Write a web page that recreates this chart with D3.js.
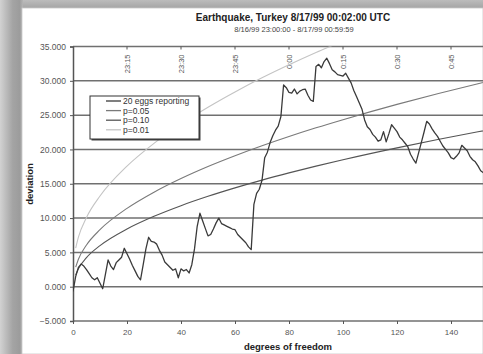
<!DOCTYPE html>
<html>
<head>
<meta charset="utf-8">
<script src="https://cdn.jsdelivr.net/npm/d3@7"></script>
<style>
  html, body { margin: 0; padding: 0; background: #fff; }
  svg { display: block; font-family: "Liberation Sans", Arial, sans-serif; }
</style>
</head>
<body>
<svg id="chart" width="483" height="354"></svg>
<script>
// Cumulative deviation of the 20 reporting eggs, one value per degree of freedom
const deviation = [
  -0.7, 1.5, 2.8, 3.3, 3.0, 2.5, 1.9, 1.3, 1.0, 1.3,
   0.5, -0.3, 1.8, 3.9, 3.0, 2.5, 3.5, 3.9, 4.3, 5.6,
   4.8, 4.0, 3.1, 2.3, 1.5, 1.0, 3.2, 5.5, 7.2, 6.6,
   6.5, 6.2, 5.3, 4.6, 3.6, 3.2, 2.8, 2.4, 2.6, 1.3,
   2.6, 2.3, 2.5, 2.0, 3.2, 5.5, 8.8, 10.7, 9.6, 8.5,
   7.4, 7.6, 8.4, 9.3, 10.0, 9.2, 9.0, 8.8, 8.6, 8.4,
   8.3, 7.6, 7.2, 6.8, 6.4, 5.8, 5.4, 12.0, 13.6, 14.2,
   15.5, 18.8, 19.6, 21.0, 22.0, 22.8, 23.4, 24.8, 29.4, 29.0,
   28.3, 28.2, 28.8, 28.1, 28.5, 28.7, 28.8, 27.9, 27.2, 27.0,
   32.1, 32.4, 31.9, 32.8, 33.3, 32.5, 31.6, 31.3, 30.9, 30.8,
   30.7, 31.1, 30.4, 29.7, 28.6, 27.7, 26.8, 25.9, 24.3, 23.3,
   22.9, 22.2, 21.8, 21.2, 21.4, 22.6, 21.1, 22.3, 23.6, 23.1,
   22.6, 21.8, 21.4, 20.9, 20.4, 19.3, 18.6, 18.0, 19.5, 21.0,
   22.5, 24.1, 23.7, 23.0, 22.4, 21.9, 21.2, 20.5, 20.0, 19.5,
   18.8, 18.6, 19.0, 19.5, 20.6, 20.2, 19.8, 19.0, 18.5, 18.2,
   17.6, 16.9, 16.6, 16.0
];

// Significance envelopes (deviation at which the chi-square reaches each level)
const envDf  = [1, 2, 5, 10, 20, 30, 40, 50, 60, 70, 80, 90, 100, 120, 150, 160];
const p05    = [2.84, 3.99, 6.07, 8.31, 11.41, 13.77, 15.76, 17.51, 19.08, 20.53, 21.88, 23.15, 24.34, 26.57, 29.58, 30.5];
const p10    = [1.71, 2.61, 4.24, 5.99, 8.41, 10.26, 11.81, 13.17, 14.40, 15.53, 16.58, 17.57, 18.50, 20.23, 22.58, 23.3];
const p01    = [5.63, 7.21, 10.09, 13.21, 17.57, 20.89, 23.69, 26.15, 28.38, 30.43, 32.33, 34.12, 35.81, 39.2, 43.9, 45.4];

const yTicks = [-5, 0, 5, 10, 15, 20, 25, 30, 35];
const xTicks = [0, 20, 40, 60, 80, 100, 120, 140];
const timeTickDf = [20, 40, 60, 80, 100, 120, 140];
const timeLabels = ["23:15", "23:30", "23:45", "0:00", "0:15", "0:30", "0:45"];

const legendNames = ["20 eggs reporting", "p=0.05", "p=0.10", "p=0.01"];

const title = "Earthquake, Turkey 8/17/99 00:02:00 UTC";
const subtitle = "8/16/99 23:00:00 - 8/17/99 00:59:59";

const svg = d3.select("#chart");
const W = 483, H = 354;

// Page frame with soft shadow on the left and top
const defs = svg.append("defs");
const gl = defs.append("linearGradient").attr("id", "shadeLeft").attr("x1", 0).attr("x2", 1).attr("y1", 0).attr("y2", 0);
gl.append("stop").attr("offset", "0%").attr("stop-color", "#d2d2d2");
gl.append("stop").attr("offset", "55%").attr("stop-color", "#a4a4a4");
gl.append("stop").attr("offset", "85%").attr("stop-color", "#9c9c9c");
gl.append("stop").attr("offset", "100%").attr("stop-color", "#b4b4b4");
const gt = defs.append("linearGradient").attr("id", "shadeTop").attr("x1", 0).attr("x2", 0).attr("y1", 0).attr("y2", 1);
gt.append("stop").attr("offset", "0%").attr("stop-color", "#bcbcbc");
gt.append("stop").attr("offset", "100%").attr("stop-color", "#a2a2a2");

svg.append("rect").attr("x", 0).attr("y", 0).attr("width", W).attr("height", 9).attr("fill", "url(#shadeTop)");
svg.append("rect").attr("x", 0).attr("y", 0).attr("width", 23).attr("height", H).attr("fill", "url(#shadeLeft)");
svg.append("rect").attr("x", 22).attr("y", 8).attr("width", W - 22).attr("height", H - 8)
  .attr("fill", "#ffffff").attr("stroke", "#c8c8c8").attr("stroke-width", 0.8);

// Scales
const x = d3.scaleLinear().domain([0, 160]).range([73, 505]);
const y = d3.scaleLinear().domain([-5, 35]).range([321, 46.5]);

defs.append("clipPath").attr("id", "plotClip")
  .append("rect").attr("x", 73).attr("y", y(35)).attr("width", 440).attr("height", y(-5) - y(35));

// Title
svg.append("text").attr("x", 293).attr("y", 21).attr("text-anchor", "middle")
  .attr("font-size", 10).attr("font-weight", "bold").attr("fill", "#222").text(title);
svg.append("text").attr("x", 294).attr("y", 32).attr("text-anchor", "middle")
  .attr("font-size", 7.5).attr("fill", "#444").text(subtitle);

// Horizontal gridlines
svg.append("g").selectAll("line").data(yTicks).join("line")
  .attr("x1", 73).attr("x2", W).attr("y1", d => y(d)).attr("y2", d => y(d))
  .attr("stroke", "#707070").attr("stroke-width", 1.5);

// Left axis
const yAxis = d3.axisLeft(y).tickValues(yTicks).tickSize(3).tickPadding(4)
  .tickFormat(d3.format(".3f"));
const gy = svg.append("g").attr("transform", "translate(73,0)").call(yAxis);
gy.select(".domain").attr("stroke", "#555").attr("stroke-width", 1.5);
gy.selectAll(".tick line").attr("stroke", "#555");
gy.selectAll(".tick text").attr("font-size", 8.5).attr("fill", "#555")
  .attr("font-family", "Liberation Sans, Arial, sans-serif");

// Bottom axis
const xAxis = d3.axisBottom(x).tickValues(xTicks).tickSize(3).tickPadding(5);
const gx = svg.append("g").attr("transform", `translate(0,${y(-5)})`).call(xAxis);
gx.select(".domain").remove();
gx.selectAll(".tick line").attr("stroke", "#555");
gx.selectAll(".tick text").attr("font-size", 8).attr("fill", "#555")
  .attr("font-family", "Liberation Sans, Arial, sans-serif");

// Top time axis (clock time for each degree of freedom)
const timeScale = d3.scaleOrdinal().domain(timeTickDf).range(timeLabels);
const gtAxis = svg.append("g").attr("transform", `translate(0,${y(35)})`);
gtAxis.selectAll("line").data(timeTickDf).join("line")
  .attr("x1", d => x(d)).attr("x2", d => x(d)).attr("y1", 0).attr("y2", 3)
  .attr("stroke", "#555");
gtAxis.selectAll("text").data(timeTickDf).join("text")
  .attr("transform", d => `translate(${x(d) + 2.8},8) rotate(-90)`)
  .attr("text-anchor", "end").attr("font-size", 7.5).attr("fill", "#555")
  .text(d => timeScale(d));

// Axis titles
svg.append("text").attr("x", 288).attr("y", 350).attr("text-anchor", "middle")
  .attr("font-size", 9.5).attr("font-weight", "bold").attr("fill", "#222").text("degrees of freedom");
svg.append("text").attr("transform", "translate(33,184) rotate(-90)").attr("text-anchor", "middle")
  .attr("font-size", 9.5).attr("font-weight", "bold").attr("fill", "#222").text("deviation");

// Series
const plot = svg.append("g").attr("clip-path", "url(#plotClip)");
const envLine = d3.line().x(d => x(d[0])).y(d => y(d[1])).curve(d3.curveMonotoneX);
const envelopes = [
  { vals: p01, color: "#c4c4c4", width: 1.1 },
  { vals: p05, color: "#7a7a7a", width: 1.1 },
  { vals: p10, color: "#555555", width: 1.1 }
];
envelopes.forEach(e => {
  plot.append("path").datum(envDf.map((d, i) => [d, e.vals[i]]))
    .attr("fill", "none").attr("stroke", e.color).attr("stroke-width", e.width).attr("d", envLine);
});

const devLine = d3.line().x((d, i) => x(i)).y(d => y(d));
plot.append("path").datum(deviation)
  .attr("fill", "none").attr("stroke", "#3a3a3a").attr("stroke-width", 1.3)
  .attr("stroke-linejoin", "round").attr("d", devLine);

// Legend
const lg = svg.append("g").attr("transform", "translate(90,96)");
lg.append("rect").attr("x", 1.5).attr("y", 1.5).attr("width", 109).attr("height", 43).attr("fill", "#444");
lg.append("rect").attr("x", 0).attr("y", 0).attr("width", 109).attr("height", 43)
  .attr("fill", "#fff").attr("stroke", "#333").attr("stroke-width", 1);
const legendColors = ["#3a3a3a", "#7a7a7a", "#555555", "#c4c4c4"];
legendNames.forEach((name, i) => {
  const ly = 5 + i * 9.6;
  lg.append("line").attr("x1", 16).attr("x2", 31).attr("y1", ly).attr("y2", ly)
    .attr("stroke", legendColors[i]).attr("stroke-width", 1.3);
  lg.append("text").attr("x", 33).attr("y", ly + 3).attr("font-size", 8.5).attr("fill", "#333").text(name);
});
</script>
</body>
</html>
